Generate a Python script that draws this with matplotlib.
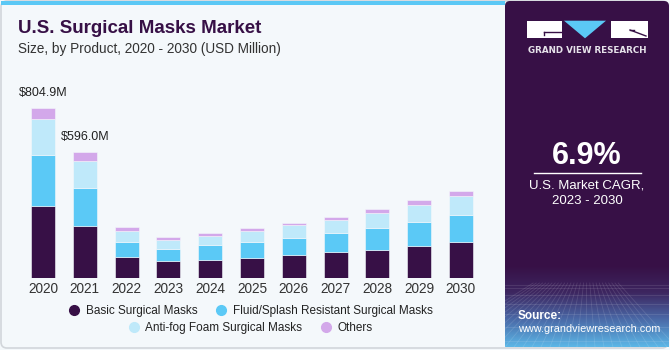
import matplotlib.pyplot as plt
import numpy as np
from matplotlib.patches import Rectangle, Polygon, FancyBboxPatch
from matplotlib.lines import Line2D
from matplotlib.colors import LinearSegmentedColormap

plt.rcParams['font.family'] = ['Liberation Sans', 'DejaVu Sans']

# data (USD Million)
years = ['2020', '2021', '2022', '2023', '2024', '2025', '2026', '2027', '2028', '2029', '2030']
basic = [342.5, 248, 100.5, 80, 88, 96, 108.5, 123, 134, 151, 170]
fluid = [239, 179, 72, 58, 69, 77, 82, 90, 104, 116, 130]
antifog = [171, 127, 50, 41, 44, 50, 60, 61, 69, 80, 90]
others = [52.4, 42, 20, 16, 13, 16, 12, 17, 20, 24, 24]
totals_shown = {0: '$804.9M', 1: '$596.0M'}

series = [basic, fluid, antifog, others]
names = ['Basic Surgical Masks', 'Fluid/Splash Resistant Surgical Masks',
         'Anti-fog Foam Surgical Masks', 'Others']
colors = ['#371046', '#5bc9f6', '#bfe9fa', '#d3a8ea']

W, H = 670, 350
fig = plt.figure(figsize=(W / 100, H / 100), dpi=100)
fig.patch.set_facecolor('#f4f8fb')

# background / decoration layer in pixel coords
bg = fig.add_axes([0, 0, 1, 1])
bg.set_xlim(0, W)
bg.set_ylim(H, 0)
bg.axis('off')
bg.add_patch(FancyBboxPatch((1, 1), W - 3, H - 3, boxstyle='round,pad=0,rounding_size=6',
                            fc='#f4f8fb', ec='#d2d6db', lw=1.2))
bg.add_patch(Rectangle((1, 0.5), 504, 4.5, fc='#5bc8f5', ec='none'))

# right panel
bg.add_patch(FancyBboxPatch((505, 1), 164, 346, boxstyle='round,pad=0,rounding_size=5',
                            fc='#371046', ec='none'))
cmap = LinearSegmentedColormap.from_list('p', ['#371046', '#3d2660', '#4a6aa8', '#5cb6e6'])
grad = np.linspace(0, 1, 100).reshape(-1, 1)
bg.imshow(grad, cmap=cmap, extent=[505, 669, 347, 265], aspect='auto', zorder=2)
# faint grid texture
for k in range(9):
    yy = 285 + (k ** 1.6) * 3.2
    bg.plot([505, 669], [yy, yy], color='white', alpha=0.12, lw=0.6, zorder=3)
for k in range(-8, 20):
    x0 = 505 + k * 9
    bg.plot([587 + (x0 - 587) * 0.35, x0], [283, 347], color='white', alpha=0.12, lw=0.6, zorder=3)

# logo
bg.add_patch(Rectangle((527, 20.7), 35, 17.6, fc='white', ec='none', zorder=4))
bg.plot([544, 561], [31.5, 31.5], color='#371046', lw=1, zorder=5)
bg.plot([544, 544], [31.5, 34.5], color='#371046', lw=1, zorder=5)
bg.add_patch(Polygon([(564, 20.7), (606, 20.7), (585, 38.3)], closed=True, fc='#5bc8f5', ec='none', zorder=4))
bg.add_patch(Rectangle((611, 20.7), 36.5, 17.6, fc='white', ec='none', zorder=4))
bg.plot([630, 646], [30, 36], color='#371046', lw=1, zorder=5)
bg.plot([630, 634], [30, 30], color='#371046', lw=1, zorder=5)
bg.text(587.5, 50.7, 'GRAND VIEW RESEARCH', color='#e6e2ea', fontsize=6.3, fontweight='bold',
        family='DejaVu Sans', ha='center', va='center', zorder=5)

bg.text(587, 156.5, '6.9%', color='white', fontsize=22, fontweight='bold', ha='center', va='center', zorder=5)
bg.plot([534, 641], [173.3, 173.3], color='white', lw=1, zorder=5)
bg.text(587, 185, 'U.S. Market CAGR,', color='white', fontsize=9.5, ha='center', va='center', zorder=5)
bg.text(587, 201, '2023 - 2030', color='white', fontsize=9.5, ha='center', va='center', zorder=5)
bg.text(518, 315.7, 'Source:', color='white', fontsize=8.5, fontweight='bold', ha='left', va='center', zorder=5)
bg.text(518, 329.3, 'www.grandviewresearch.com', color='white', fontsize=7.8, ha='left', va='center', zorder=5)

# titles
bg.text(18, 28.5, 'U.S. Surgical Masks Market', color='#371046', fontsize=13.5, fontweight='bold',
        ha='left', va='center')
bg.text(18, 48.5, 'Size, by Product, 2020 - 2030 (USD Million)', color='#333333', fontsize=9.8,
        ha='left', va='center')

# chart axes
x_left, x_right, y_base, y_top = 17.9, 486, 278.3, 80
ax = fig.add_axes([x_left / W, 1 - y_base / H, (x_right - x_left) / W, (y_base - y_top) / H])
ax.patch.set_alpha(0)
x = np.arange(len(years))
bottom = np.zeros(len(years))
for vals, c, n in zip(series, colors, names):
    ax.bar(x, vals, 0.574, bottom=bottom, color=c, edgecolor='#f4f8fb', linewidth=0.4, label=n)
    bottom += np.array(vals)
for i, lab in totals_shown.items():
    ax.text(x[i], bottom[i] + 40, lab, ha='center', va='bottom', fontsize=9, color='#222222')
ax.set_xlim(-0.6, len(years) - 0.4)
ax.set_ylim(0, (y_base - y_top) * 4.718)
ax.set_xticks(x, years, fontsize=9.8, color='#333333')
ax.tick_params(axis='x', length=0, pad=3)
ax.set_yticks([])
for s in ax.spines.values():
    s.set_visible(False)

# legend, two centred rows
handles = [Line2D([], [], marker='o', ls='none', color=c, markersize=7) for c in colors]
kw = dict(loc='center', ncol=2, frameon=False, fontsize=8.5, handlelength=0.8,
          handletextpad=0.6, columnspacing=1.6, labelcolor='#222222')
fig.legend(handles[:2], names[:2], bbox_to_anchor=(251 / W, 1 - 311 / H), **kw)
fig.legend(handles[2:], names[2:], bbox_to_anchor=(251 / W, 1 - 327.7 / H), **kw)

fig.savefig('out.png', dpi=100, facecolor=fig.get_facecolor())
